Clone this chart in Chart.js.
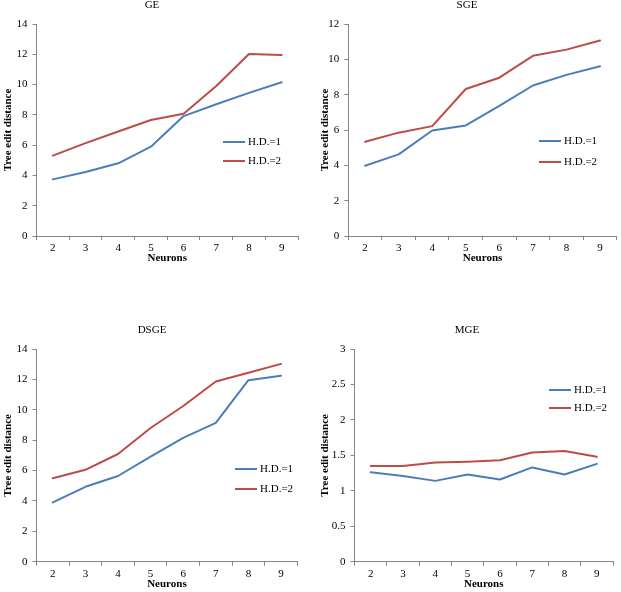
<!DOCTYPE html>
<html><head><meta charset="utf-8">
<script src="https://cdn.jsdelivr.net/npm/chart.js@4"></script>
<style>
html,body{margin:0;padding:0;background:#fff;}
body{width:621px;height:592px;position:relative;overflow:hidden;}
canvas{position:absolute;}
</style></head><body>
<canvas id="cGE" width="310" height="296" style="left:0;top:0"></canvas>
<canvas id="cSGE" width="311" height="296" style="left:310px;top:0"></canvas>
<canvas id="cDSGE" width="310" height="296" style="left:0;top:296px"></canvas>
<canvas id="cMGE" width="311" height="296" style="left:310px;top:296px"></canvas>
<script>
// ---- data ----
const neurons = ['2','3','4','5','6','7','8','9'];
const seriesLabels = ['H.D.=1','H.D.=2'];
const geHD1 = [3.74, 4.23, 4.80, 5.90, 7.92, 8.70, 9.45, 10.15];
const geHD2 = [5.31, 6.13, 6.90, 7.66, 8.08, 9.90, 12.02, 11.95];
const sgeHD1 = [3.98, 4.62, 5.97, 6.26, 7.36, 8.52, 9.12, 9.61];
const sgeHD2 = [5.34, 5.85, 6.22, 8.32, 8.96, 10.20, 10.55, 11.07];
const dsgeHD1 = [3.90, 4.93, 5.64, 6.92, 8.15, 9.14, 11.95, 12.24];
const dsgeHD2 = [5.49, 6.05, 7.09, 8.80, 10.25, 11.86, 12.44, 13.02];
const mgeHD1 = [1.26, 1.21, 1.14, 1.23, 1.16, 1.33, 1.23, 1.38];
const mgeHD2 = [1.35, 1.35, 1.40, 1.41, 1.43, 1.54, 1.56, 1.48];

// ---- styles ----
const FONT = "'Liberation Serif','Times New Roman',serif";
const BLUE = '#4A7EBB', RED = '#BE4B48', AXIS = '#868686';

const overlay = {
  id: 'overlay',
  afterDraw(chart, args, opts) {
    const ctx = chart.ctx;
    ctx.save();
    ctx.font = '11px ' + FONT;
    ctx.fillStyle = '#000';
    ctx.textBaseline = 'middle';
    ctx.textAlign = 'center';
    ctx.fillText(opts.title, opts.titleX, opts.titleY);
    chart.data.datasets.forEach((ds, i) => {
      const y = opts.legY[i];
      ctx.strokeStyle = ds.borderColor;
      ctx.lineWidth = 2;
      ctx.beginPath();
      ctx.moveTo(opts.legX, y);
      ctx.lineTo(opts.legX + 22, y);
      ctx.stroke();
      ctx.textAlign = 'left';
      ctx.fillText(ds.label, opts.legX + 25, y + 0.5);
    });
    ctx.restore();
  }
};

function makeChart(id, title, d1, d2, ymax, step, L) {
  const canvas = document.getElementById(id);
  const W = canvas.width, H = canvas.height;
  return new Chart(canvas, {
    type: 'line',
    data: {
      labels: neurons,
      datasets: [
        {label: seriesLabels[0], data: d1, borderColor: BLUE, backgroundColor: BLUE, borderWidth: 2, pointRadius: 0, tension: 0, borderJoinStyle: 'round', borderCapStyle: 'round'},
        {label: seriesLabels[1], data: d2, borderColor: RED, backgroundColor: RED, borderWidth: 2, pointRadius: 0, tension: 0, borderJoinStyle: 'round', borderCapStyle: 'round'}
      ]
    },
    options: {
      responsive: false,
      animation: false,
      events: [],
      layout: {padding: {left: 0, top: L.top, right: W - L.right, bottom: 0}},
      plugins: {
        legend: {display: false},
        title: {display: false},
        tooltip: {enabled: false},
        overlay: {title: title, titleX: L.titleX, titleY: L.titleY, legX: L.legX, legY: L.legY}
      },
      scales: {
        x: {
          type: 'category',
          offset: true,
          grid: {display: true, offset: true, drawOnChartArea: false, drawTicks: true, tickLength: 4, color: AXIS, lineWidth: 1},
          border: {display: true, color: AXIS, width: 1},
          ticks: {font: {family: FONT, size: 11}, color: '#000', padding: 2, maxRotation: 0, autoSkip: false},
          title: {display: true, text: 'Neurons', color: '#000', font: {family: FONT, size: 11, weight: 'bold'}, padding: {top: 0, bottom: L.xtb}},
          afterFit(s) { s.height = H - L.bottom; }
        },
        y: {
          min: 0, max: ymax,
          grid: {display: true, drawOnChartArea: false, drawTicks: true, tickLength: 4, color: AXIS, lineWidth: 1},
          border: {display: true, color: AXIS, width: 1},
          ticks: {stepSize: step, font: {family: FONT, size: 11}, color: '#000', padding: 5,
                  callback: (v) => String(Math.round(v * 10) / 10)},
          title: {display: true, text: 'Tree edit distance', color: '#000', font: {family: FONT, size: 11, weight: 'bold'}, padding: {top: L.ytt, bottom: 0}},
          afterFit(s) { s.width = L.left; }
        }
      }
    },
    plugins: [overlay]
  });
}

makeChart('cGE', 'GE', geHD1, geHD2, 14, 2,
  {left: 36.5, right: 298, top: 24, bottom: 236, ytt: 1.7, xtb: 31, titleX: 152, titleY: 5, legX: 223, legY: [142, 161]});
makeChart('cSGE', 'SGE', sgeHD1, sgeHD2, 12, 2,
  {left: 38.3, right: 306.8, top: 24, bottom: 236, ytt: 8.4, xtb: 31, titleX: 157, titleY: 5, legX: 229, legY: [141, 162]});
makeChart('cDSGE', 'DSGE', dsgeHD1, dsgeHD2, 14, 2,
  {left: 36.5, right: 297.3, top: 53, bottom: 265.7, ytt: 1.7, xtb: 1.4, titleX: 152, titleY: 34, legX: 235, legY: [173, 193]});
makeChart('cMGE', 'MGE', mgeHD1, mgeHD2, 3, 0.5,
  {left: 44.5, right: 303, top: 53, bottom: 265.7, ytt: 8.4, xtb: 1.4, titleX: 157, titleY: 34, legX: 239, legY: [94, 112]});
</script>
</body></html>
